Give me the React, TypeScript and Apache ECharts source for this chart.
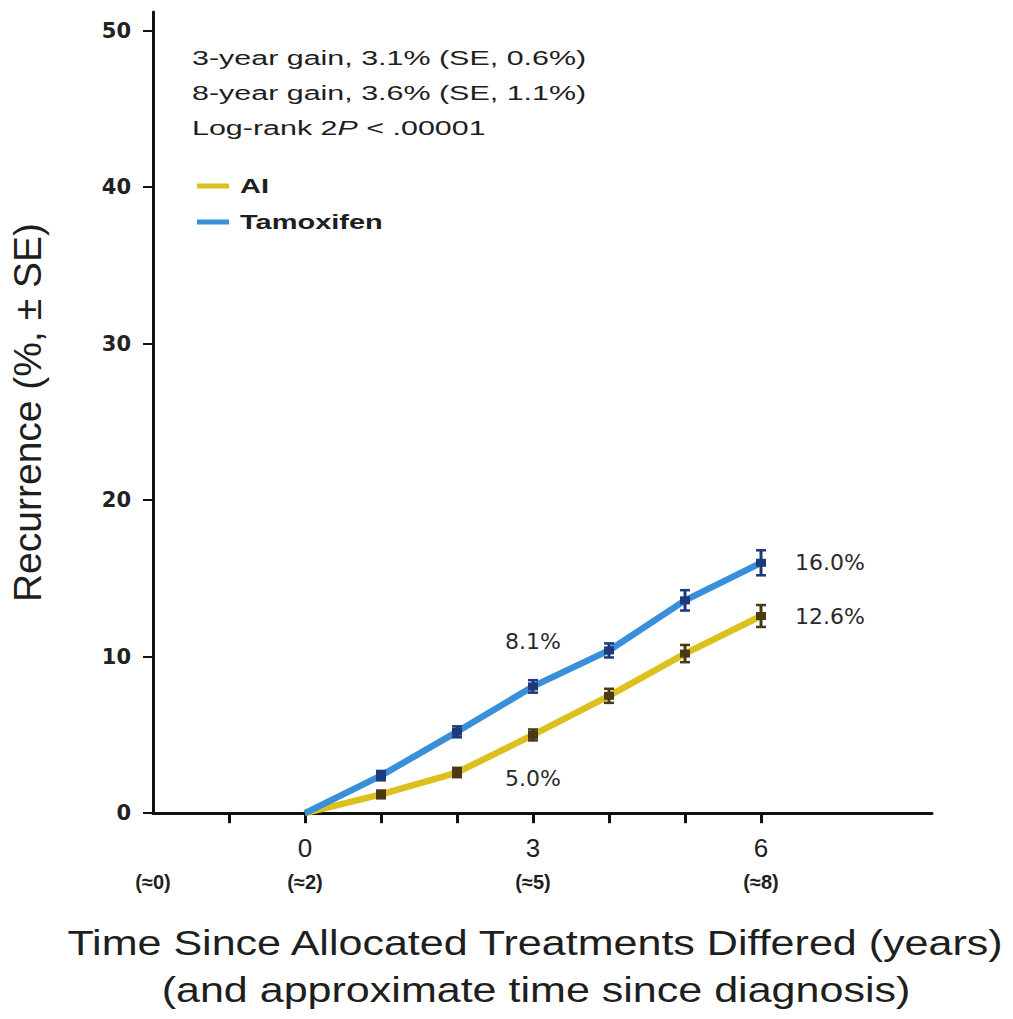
import React, { useEffect, useRef } from "react";
import * as echarts from "echarts";

// ---- data ----
const years = [0, 1, 2, 3, 4, 5, 6];
const tamoxifen = [0, 2.4, 5.2, 8.1, 10.4, 13.6, 16.0];
const tamoxifenSE = [0, 0.3, 0.35, 0.4, 0.45, 0.65, 0.8];
const ai = [0, 1.2, 2.6, 5.0, 7.5, 10.2, 12.6];
const aiSE = [0, 0.25, 0.3, 0.35, 0.45, 0.55, 0.7];

const yTickValues = [0, 10, 20, 30, 40, 50];
const xTickMarks = [-1, 0, 1, 2, 3, 4, 5, 6];
const xLabelValues = [-2, 0, 3, 6];
const xLabelTop: Record<string, string> = { "-2": " ", "0": "0", "3": "3", "6": "6" };
const xLabelBottom: Record<string, string> = { "-2": "(≈0)", "0": "(≈2)", "3": "(≈5)", "6": "(≈8)" };

const annotationLines = [
  "3-year gain, 3.1% (SE, 0.6%)",
  "8-year gain, 3.6% (SE, 1.1%)",
];
const legendNames = ["AI", "Tamoxifen"];

const AI_COLOR = "#dcc01e";
const TAM_COLOR = "#3a8fd9";
const AI_BAR = "#4a3a14";
const TAM_BAR = "#1c3a7c";
const TEXT = "#1e1e1e";
const FONT = "'Liberation Sans', Arial, sans-serif";

function labelFor(series: "tam" | "ai", idx: number) {
  if (series === "tam" && idx === 3) return { show: true, position: "top", distance: 34 };
  if (series === "ai" && idx === 3) return { show: true, position: "bottom", distance: 33 };
  if (idx === 6) return { show: true, position: "right", distance: 34 };
  return { show: false };
}

function errorRenderer(color: string) {
  return (params: any, api: any) => {
    const x = api.value(0);
    const lo = api.value(1);
    const hi = api.value(2);
    const mid = api.value(3);
    const p1 = api.coord([x, lo]);
    const p2 = api.coord([x, hi]);
    const pm = api.coord([x, mid]);
    const w = 5;
    return {
      type: "group",
      children: [
        { type: "line", shape: { x1: p1[0], y1: p1[1], x2: p2[0], y2: p2[1] }, style: { stroke: color, lineWidth: 3 } },
        { type: "line", shape: { x1: p1[0] - w, y1: p1[1], x2: p1[0] + w, y2: p1[1] }, style: { stroke: color, lineWidth: 2.5 } },
        { type: "line", shape: { x1: p2[0] - w, y1: p2[1], x2: p2[0] + w, y2: p2[1] }, style: { stroke: color, lineWidth: 2.5 } },
        { type: "rect", shape: { x: pm[0] - 5, y: pm[1] - 4, width: 10, height: 8 }, style: { fill: color } },
      ],
    };
  };
}

export default function App() {
  const ref = useRef<HTMLDivElement>(null);

  useEffect(() => {
    if (!ref.current) return;
    const chart = echarts.init(ref.current, undefined, { renderer: "svg" });

    const tamErr = years.slice(1).map((x, i) => [x, tamoxifen[i + 1] - tamoxifenSE[i + 1], tamoxifen[i + 1] + tamoxifenSE[i + 1], tamoxifen[i + 1]]);
    const aiErr = years.slice(1).map((x, i) => [x, ai[i + 1] - aiSE[i + 1], ai[i + 1] + aiSE[i + 1], ai[i + 1]]);

    const pointLabelStyle = {
      formatter: (p: any) => `${p.value[1].toFixed(1)}%`,
      fontSize: 22,
      fontFamily: "'DejaVu Sans', sans-serif",
      color: "#2a2a2a",
    };

    const option: any = {
      animation: false,
      backgroundColor: "#ffffff",
      // y: 0 at 813.2px, 50 at 30.7px; axis line extends to 51.2
      grid: { left: 152, top: 11.9, width: 780, height: 801.3, containLabel: false },
      xAxis: {
        type: "value",
        min: -2,
        max: 8.25,
        interval: 1,
        splitLine: { show: false },
        axisLine: { show: true, onZero: false, lineStyle: { color: "#111", width: 3 } },
        axisTick: { show: true, customValues: xTickMarks, length: 10, lineStyle: { color: "#111", width: 3 } },
        axisLabel: {
          customValues: xLabelValues,
          margin: 18,
          formatter: (v: number) => `{a|${xLabelTop[String(v)] ?? ""}}\n{b|${xLabelBottom[String(v)] ?? ""}}`,
          rich: {
            a: { fontSize: 26, lineHeight: 34, color: TEXT, fontFamily: FONT },
            b: { fontSize: 20, lineHeight: 34, color: TEXT, fontFamily: FONT, fontWeight: "bold" },
          },
        },
      },
      yAxis: {
        type: "value",
        min: 0,
        max: 51.2,
        interval: 10,
        splitLine: { show: false },
        axisLine: { show: true, onZero: false, lineStyle: { color: "#111", width: 3 } },
        axisTick: { show: true, customValues: yTickValues, length: 10, lineStyle: { color: "#111", width: 2 } },
        axisLabel: { customValues: yTickValues, fontSize: 21, fontWeight: "bold", fontFamily: "'DejaVu Sans', sans-serif", color: "#222", margin: 22 },
        name: "Recurrence (%, ± SE)",
        nameLocation: "middle",
        nameGap: 106,
        nameTextStyle: { fontSize: 39, color: TEXT, fontFamily: FONT },
      },
      series: [
        {
          name: "AI",
          type: "line",
          data: years.map((x, i) => ({ value: [x, ai[i]], label: labelFor("ai", i) })),
          showSymbol: true,
          symbol: "circle",
          symbolSize: 0,
          lineStyle: { color: AI_COLOR, width: 6.5 },
          itemStyle: { color: AI_COLOR },
          label: pointLabelStyle,
          z: 2,
        },
        {
          name: "Tamoxifen",
          type: "line",
          data: years.map((x, i) => ({ value: [x, tamoxifen[i]], label: labelFor("tam", i) })),
          showSymbol: true,
          symbol: "circle",
          symbolSize: 0,
          lineStyle: { color: TAM_COLOR, width: 6.5 },
          itemStyle: { color: TAM_COLOR },
          label: pointLabelStyle,
          z: 3,
        },
        {
          name: "AI SE",
          type: "custom",
          data: aiErr,
          renderItem: errorRenderer(AI_BAR),
          encode: { x: 0, y: [1, 2] },
          z: 4,
        },
        {
          name: "Tamoxifen SE",
          type: "custom",
          data: tamErr,
          renderItem: errorRenderer(TAM_BAR),
          encode: { x: 0, y: [1, 2] },
          z: 4,
        },
      ],
      graphic: [
        ...annotationLines.map((t, i) => ({
          type: "text",
          x: 192,
          y: 58 + i * 35,
          scaleX: 1.45,
          style: { text: t, fontSize: 21, fill: TEXT, fontFamily: FONT, align: "left", verticalAlign: "middle" },
        })),
        {
          type: "text",
          x: 192,
          y: 128,
          scaleX: 1.45,
          style: {
            text: "{n|Log-rank 2}{i|P}{n| < .00001}",
            rich: {
              n: { fontSize: 21, fill: TEXT, fontFamily: FONT },
              i: { fontSize: 21, fill: TEXT, fontFamily: FONT, fontStyle: "italic" },
            },
            align: "left",
            verticalAlign: "middle",
          },
        },
        {
          type: "line",
          shape: { x1: 197, y1: 186, x2: 229, y2: 186 },
          style: { stroke: AI_COLOR, lineWidth: 5 },
        },
        {
          type: "line",
          shape: { x1: 197, y1: 222, x2: 229, y2: 222 },
          style: { stroke: TAM_COLOR, lineWidth: 5 },
        },
        ...legendNames.map((t, i) => ({
          type: "text",
          x: 240,
          y: 186 + i * 36,
          scaleX: 1.45,
          style: { text: t, fontSize: 20, fontWeight: "bold", fill: TEXT, fontFamily: FONT, align: "left", verticalAlign: "middle" },
        })),
        {
          type: "text",
          x: 535,
          y: 943,
          scaleX: 1.23,
          style: { text: "Time Since Allocated Treatments Differed (years)", fontSize: 35, fill: TEXT, fontFamily: FONT, align: "center", verticalAlign: "middle" },
        },
        {
          type: "text",
          x: 536,
          y: 990,
          scaleX: 1.23,
          style: { text: "(and approximate time since diagnosis)", fontSize: 35, fill: TEXT, fontFamily: FONT, align: "center", verticalAlign: "middle" },
        },
      ],
    };

    chart.setOption(option);
    return () => chart.dispose();
  }, []);

  return (
    <div
      ref={ref}
      style={{ position: "fixed", left: 0, top: 0, width: 1013, height: 1019, background: "#fff" }}
    />
  );
}
